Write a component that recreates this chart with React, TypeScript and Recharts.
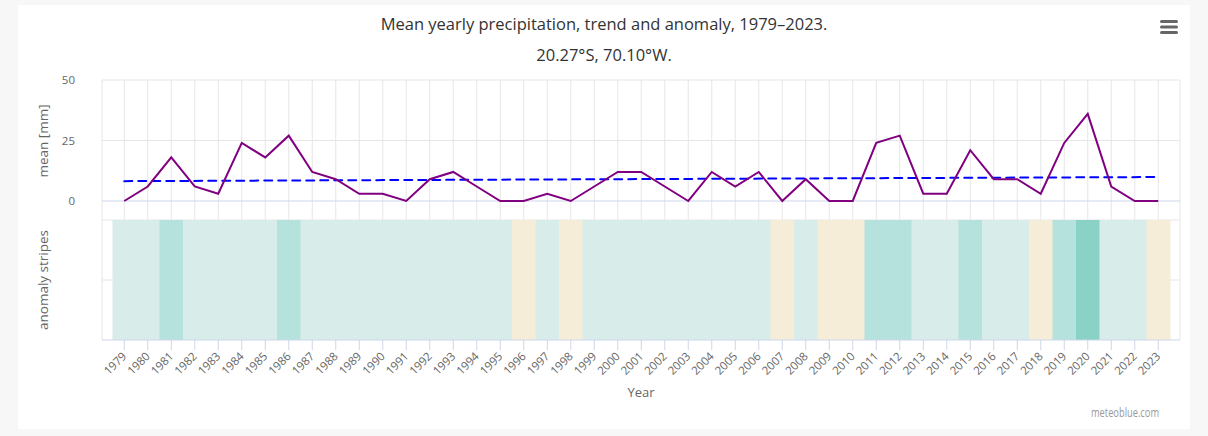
import React from "react";
import { ComposedChart, Bar, Line, XAxis, YAxis, CartesianGrid, Cell } from "recharts";

const years = [
  1979, 1980, 1981, 1982, 1983, 1984, 1985, 1986, 1987, 1988, 1989, 1990, 1991, 1992, 1993,
  1994, 1995, 1996, 1997, 1998, 1999, 2000, 2001, 2002, 2003, 2004, 2005, 2006, 2007, 2008,
  2009, 2010, 2011, 2012, 2013, 2014, 2015, 2016, 2017, 2018, 2019, 2020, 2021, 2022, 2023,
];

// mean yearly precipitation [mm]
const meanPrecip = [
  0, 6, 18, 6, 3, 24, 18, 27, 12, 9, 3, 3, 0, 9, 12,
  6, 0, 0, 3, 0, 6, 12, 12, 6, 0, 12, 6, 12, 0, 9,
  0, 0, 24, 27, 3, 3, 21, 9, 9, 3, 24, 36, 6, 0, 0,
];

// anomaly class per year: -1 dry, 0 near normal, 1 wet, 2 very wet
const anomalyLevel = [
  0, 0, 1, 0, 0, 0, 0, 1, 0, 0, 0, 0, 0, 0, 0,
  0, 0, -1, 0, -1, 0, 0, 0, 0, 0, 0, 0, 0, -1, 0,
  -1, -1, 1, 1, 0, 0, 1, 0, 0, -1, 1, 2, 0, 0, -1,
];

const trendStart = 8.2;
const trendEnd = 9.9;
const meanTicks = [0, 25, 50];

const stripeColors: Record<string, string> = {
  "-1": "#f5edd8",
  "0": "#d8ede9",
  "1": "#b5e2dc",
  "2": "#8ad2c6",
};

const data = years.map((year, i) => ({
  year,
  mean: meanPrecip[i],
  trend: i === 0 ? trendStart : i === years.length - 1 ? trendEnd : null,
  stripe: 1,
  level: anomalyLevel[i],
}));

const font = "'Open Sans', sans-serif";

function YearTick({ x, y, payload }: any) {
  const tx = x + 3;
  const ty = y + 5;
  return (
    <text
      x={tx}
      y={ty}
      transform={`rotate(-45 ${tx} ${ty})`}
      textAnchor="end"
      fontSize={11.5}
      fill="#666666"
      fontFamily={font}
    >
      {payload.value}
    </text>
  );
}

export default function App() {
  return (
    <div
      style={{
        position: "absolute",
        left: 0,
        top: 0,
        width: 1208,
        height: 436,
        background: "#f7f7f7",
        fontFamily: font,
      }}
    >
      <div
        style={{
          position: "absolute",
          left: 18,
          top: 5,
          width: 1172,
          height: 424,
          background: "#ffffff",
        }}
      />
      <div style={{ position: "absolute", left: 0, top: 0 }}>
        <ComposedChart
          width={1208}
          height={436}
          data={data}
          margin={{ top: 80, right: 28, bottom: 46, left: 42 }}
          barCategoryGap={0}
          barGap={0}
        >
          <CartesianGrid horizontalValues={[25, 50]} stroke="#e6e6e6" />
          <CartesianGrid horizontalValues={[0]} vertical={false} stroke="#ccd6eb" />
          <CartesianGrid yAxisId="stripe" horizontalValues={[0.5, 1]} vertical={false} stroke="#e6e6e6" />
          <XAxis
            dataKey="year"
            interval={0}
            padding={{ left: 10.5, right: 10 }}
            height={50}
            tickSize={10}
            tickLine={{ stroke: "#ccd6eb" }}
            axisLine={{ stroke: "#ccd6eb" }}
            tick={<YearTick />}
          />
          <YAxis
            domain={[-57.44, 50]}
            ticks={meanTicks}
            allowDataOverflow
            width={60}
            tickLine={false}
            axisLine={false}
            tickSize={0}
            tickMargin={27}
            tick={{ fontSize: 11.5, fill: "#666666", fontFamily: font }}
          />
          <YAxis yAxisId="stripe" domain={[0, 260 / 120]} allowDataOverflow hide />
          <Bar yAxisId="stripe" dataKey="stripe" isAnimationActive={false}>
            {data.map((d, i) => (
              <Cell key={i} fill={stripeColors[String(d.level)]} />
            ))}
          </Bar>
          <Line
            dataKey="trend"
            type="linear"
            stroke="#0000ff"
            strokeWidth={2}
            strokeDasharray="8 6"
            strokeLinecap="round"
            connectNulls
            dot={false}
            activeDot={false}
            isAnimationActive={false}
          />
          <Line
            dataKey="mean"
            type="linear"
            stroke="#800080"
            strokeWidth={2}
            dot={false}
            activeDot={false}
            isAnimationActive={false}
          />
        </ComposedChart>
      </div>
      <svg
        width={1208}
        height={436}
        style={{ position: "absolute", left: 0, top: 0, pointerEvents: "none" }}
        fontFamily={font}
      >
        <text x={604} y={30} textAnchor="middle" fontSize={16.5} fill="#333333">
          Mean yearly precipitation, trend and anomaly, 1979–2023.
        </text>
        <text x={604} y={61} textAnchor="middle" fontSize={16.5} fill="#333333">
          20.27°S, 70.10°W.
        </text>
        <g stroke="#666666" strokeWidth={3} strokeLinecap="round">
          <line x1={1161.5} y1={21.5} x2={1176.5} y2={21.5} />
          <line x1={1161.5} y1={27} x2={1176.5} y2={27} />
          <line x1={1161.5} y1={32.5} x2={1176.5} y2={32.5} />
        </g>
        <text x={48} y={141} transform="rotate(-90 48 141)" textAnchor="middle" fontSize={13.5} fill="#666666">
          mean [mm]
        </text>
        <text x={48} y={280} transform="rotate(-90 48 280)" textAnchor="middle" fontSize={13.5} fill="#666666">
          anomaly stripes
        </text>
        <text x={641} y={397} textAnchor="middle" fontSize={13} fill="#666666">
          Year
        </text>
        <text
          x={1091}
          y={417}
          fontSize={12}
          fill="#999999"
          textLength={68}
          lengthAdjust="spacingAndGlyphs"
        >
          meteoblue.com
        </text>
      </svg>
    </div>
  );
}
